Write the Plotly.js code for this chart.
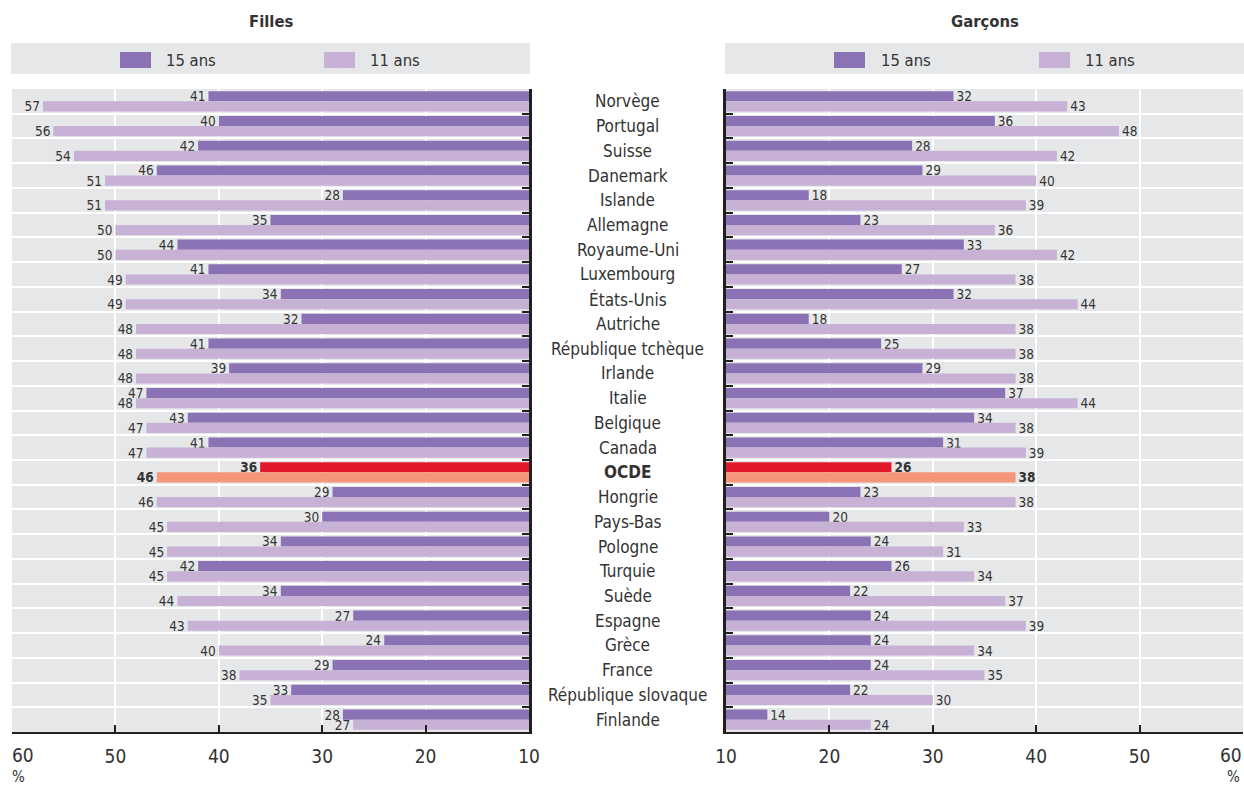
<!DOCTYPE html>
<html>
<head>
<meta charset="utf-8">
<script src="https://cdn.plot.ly/plotly-3.0.1.min.js"></script>
<style>
html,body{margin:0;padding:0;background:#fff;}
#chart{width:1244px;height:787px;}
</style>
</head>
<body>
<div id="chart"></div>
<script>
const categories = ["Norvège","Portugal","Suisse","Danemark","Islande","Allemagne","Royaume-Uni","Luxembourg","États-Unis","Autriche","République tchèque","Irlande","Italie","Belgique","Canada","OCDE","Hongrie","Pays-Bas","Pologne","Turquie","Suède","Espagne","Grèce","France","République slovaque","Finlande"];
const fillesAge15 = [41,40,42,46,28,35,44,41,34,32,41,39,47,43,41,36,29,30,34,42,34,27,24,29,33,28];
const fillesAge11 = [57,56,54,51,51,50,50,49,49,48,48,48,48,47,47,46,46,45,45,45,44,43,40,38,35,27];
const garconsAge15 = [32,36,28,29,18,23,33,27,32,18,25,29,37,34,31,26,23,20,24,26,22,24,24,24,22,14];
const garconsAge11 = [43,48,42,40,39,36,42,38,44,38,38,38,44,38,39,38,38,33,31,34,37,39,34,35,30,24];
const seriesNames = ["15 ans","11 ans"];
const panelTitles = ["Filles","Garçons"];
const tickValues = [60,50,40,30,20,10];
const axisMax = 60;
const highlight = "OCDE";

const FONT = "'Liberation Sans Narrow', 'Arial Narrow', 'DejaVu Sans Condensed', sans-serif";
const TXT = "#333333";
const AX = "#231f20";
const BG = "#e6e7e9";
const col15 = "#8a72b4", col11 = "#c7b1d5", hi15 = "#e1192a", hi11 = "#f5967a";

const W = 1244, H = 787;
const leftDom = [12/W, 529/W], rightDom = [726/W, 1243/W];
const yDom = [(H-732)/H, (H-89)/H];

function colors(c, h){ return categories.map(k => k===highlight ? h : c); }
function labels(vals){ return vals.map((v,i)=> categories[i]===highlight ? "<b>"+v+"</b>" : String(v)); }

function barTrace(name, vals, c, h, xa, ya, lg){
  return {
    type:"bar", orientation:"h", name:name, x:vals, y:categories,
    xaxis:xa, yaxis:ya, legend:lg,
    marker:{color:colors(c,h), line:{width:0}},
    text:labels(vals), textposition:"outside", cliponaxis:false,
    constraintext:"none",
    textfont:{family:FONT, size:13.5, color:TXT},
    hovertemplate:"%{y}: %{x}<extra>"+name+"</extra>"
  };
}

const data = [
  barTrace(seriesNames[0], fillesAge15, col15, hi15, "x", "y", "legend"),
  barTrace(seriesNames[1], fillesAge11, col11, hi11, "x", "y", "legend"),
  barTrace(seriesNames[0], garconsAge15, col15, hi15, "x2", "y2", "legend2"),
  barTrace(seriesNames[1], garconsAge11, col11, hi11, "x2", "y2", "legend2")
];

function xAxis(dom, range, anchor){
  return {
    domain:dom, range:range, anchor:anchor, tickvals:tickValues,
    ticktext:tickValues.map(v => v===axisMax ? "" : String(v)),
    showgrid:true, gridcolor:"#ffffff", gridwidth:2, zeroline:false,
    showline:true, linecolor:AX, linewidth:2,
    ticks:"inside", ticklen:7, tickwidth:1.5, tickcolor:AX,
    ticklabelstandoff:6,
    tickfont:{family:FONT, size:19, color:TXT}, fixedrange:true
  };
}
function yAxis(side, anchor){
  return {
    domain:yDom, type:"category", range:[categories.length-0.5,-0.5], anchor:anchor, side:side,
    tickson:"boundaries", ticks:"inside", ticklen:7, tickwidth:1.5, tickcolor:AX,
    showgrid:true, gridcolor:"#ffffff", gridwidth:2, zeroline:false,
    showline:true, linecolor:AX, linewidth:2.5, showticklabels:false, fixedrange:true
  };
}

const annotations = categories.map(c => ({
  xref:"paper", yref:"y", x:627.5/W, y:c, xanchor:"center", yanchor:"middle",
  text: c===highlight ? "<b>"+c+"</b>" : c, showarrow:false,
  font:{family:FONT, size:17, color:TXT}
}));
annotations.push(
  {xref:"x domain", yref:"paper", x:0.5, y:(H-22)/H, text:"<b>"+panelTitles[0]+"</b>", showarrow:false, yanchor:"middle", font:{family:FONT, size:16.5, color:TXT}},
  {xref:"x2 domain", yref:"paper", x:0.5, y:(H-22)/H, text:"<b>"+panelTitles[1]+"</b>", showarrow:false, yanchor:"middle", font:{family:FONT, size:16.5, color:TXT}},
  {xref:"x", yref:"paper", x:axisMax, y:(H-755)/H, xanchor:"left", yanchor:"middle", xshift:-2, text:String(axisMax), showarrow:false, font:{family:FONT, size:19, color:TXT}},
  {xref:"x2", yref:"paper", x:axisMax, y:(H-755)/H, xanchor:"right", yanchor:"middle", xshift:1, text:String(axisMax), showarrow:false, font:{family:FONT, size:19, color:TXT}},
  {xref:"paper", yref:"paper", x:10/W, y:(H-777)/H, xanchor:"left", yanchor:"middle", text:"%", showarrow:false, font:{family:FONT, size:15, color:TXT}},
  {xref:"paper", yref:"paper", x:1242/W, y:(H-777)/H, xanchor:"right", yanchor:"middle", text:"%", showarrow:false, font:{family:FONT, size:15, color:TXT}}
);

const legendBase = {
  orientation:"h", xanchor:"left", yanchor:"middle", y:(H-60)/H,
  bgcolor:"rgba(0,0,0,0)", font:{family:FONT, size:16.5, color:TXT},
  itemwidth:52, entrywidth:137, entrywidthmode:"pixels", traceorder:"normal",
  itemclick:false, itemdoubleclick:false
};

// legend swatch backing (widens Plotly's small square symbols to the reference's wide swatches)
function swatch(x0, x1, color){
  return {type:"rect", xref:"paper", yref:"paper", x0:x0/W, x1:x1/W, y0:(H-68)/H, y1:(H-52)/H,
          fillcolor:color, line:{width:0}, layer:"above"};
}

const layout = {
  width:W, height:H, margin:{l:0,r:0,t:0,b:0},
  paper_bgcolor:"#ffffff", plot_bgcolor:BG,
  barmode:"group", bargap:0.18, bargroupgap:0,
  showlegend:true,
  legend:Object.assign({}, legendBase, {x:104/W}),
  legend2:Object.assign({}, legendBase, {x:819/W}),
  xaxis:xAxis(leftDom,[60,10],"y"),
  yaxis:yAxis("right","x"),
  xaxis2:xAxis(rightDom,[10,60],"y2"),
  yaxis2:yAxis("left","x2"),
  shapes:[
    {type:"rect", xref:"paper", yref:"paper", x0:11/W, x1:530/W, y0:(H-74)/H, y1:(H-43)/H, fillcolor:BG, line:{width:0}, layer:"below"},
    {type:"rect", xref:"paper", yref:"paper", x0:725/W, x1:1, y0:(H-74)/H, y1:(H-43)/H, fillcolor:BG, line:{width:0}, layer:"below"},
    swatch(120,151,col15), swatch(324,355,col11),
    swatch(834,865,col15), swatch(1039,1070,col11)
  ],
  annotations:annotations,
  font:{family:FONT, color:TXT}
};

Plotly.newPlot("chart", data, layout, {displayModeBar:false, responsive:false});
</script>
</body>
</html>
